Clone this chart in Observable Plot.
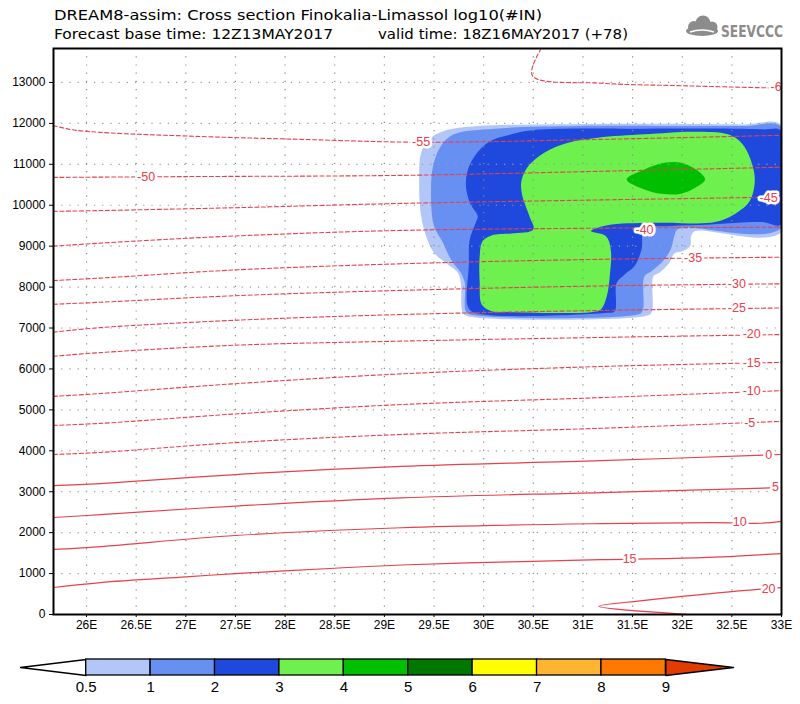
<!DOCTYPE html>
<html>
<head>
<meta charset="utf-8">
<script src="https://cdn.jsdelivr.net/npm/d3@7"></script>
<script src="https://cdn.jsdelivr.net/npm/@observablehq/plot@0.6"></script>
<style>
  body { margin: 0; background: #fff; }
  #wrap { position: relative; width: 800px; height: 704px; overflow: hidden; background: #fff; }
  #chart { position: absolute; left: 0; top: 0; }
  #legend { position: absolute; left: 0; top: 640px; }
  #head { position: absolute; left: 0; top: 0; }
</style>
</head>
<body>
<div id="wrap">
  <div id="chart"></div>
  <div id="legend"></div>
  <svg id="head" width="800" height="46" xmlns="http://www.w3.org/2000/svg">
    <g font-family="DejaVu Sans, sans-serif" font-size="14" fill="#000">
      <text x="54" y="20" textLength="488" lengthAdjust="spacingAndGlyphs">DREAM8-assim: Cross section Finokalia-Limassol log10(#IN)</text>
      <text x="54" y="39" textLength="279" lengthAdjust="spacingAndGlyphs">Forecast base time: 12Z13MAY2017</text>
      <text x="378" y="39" textLength="250" lengthAdjust="spacingAndGlyphs">valid time: 18Z16MAY2017 (+78)</text>
    </g>
    <g fill="#8c8c8c">
      <ellipse cx="702" cy="31" rx="16" ry="5"/>
      <circle cx="694" cy="27" r="6"/>
      <circle cx="703" cy="23" r="7.5"/>
      <circle cx="712" cy="27" r="5.5"/>
    </g>
    <path d="M690 32 Q702 28 714 32" stroke="#fff" stroke-width="1.5" fill="none"/>
    <text x="721" y="37" font-family="DejaVu Sans Condensed, DejaVu Sans, sans-serif" font-weight="bold" font-size="16" fill="#8c8c8c" textLength="62" lengthAdjust="spacingAndGlyphs">SEEVCCC</text>
  </svg>
</div>
<script>
// ---------- axes ----------
const xTicks = [26, 26.5, 27, 27.5, 28, 28.5, 29, 29.5, 30, 30.5, 31, 31.5, 32, 32.5, 33];
const yTicks = [0, 1000, 2000, 3000, 4000, 5000, 6000, 7000, 8000, 9000, 10000, 11000, 12000, 13000];
const xDomain = [25.667, 33.0];
const yDomain = [0, 13830];

// ---------- log10(#IN) filled areas (lon, height m) ----------
const fill05 = [[29.59,11810],[29.94,11935],[30.61,11976],[31.62,11993],[32.63,11976],[33.0,11960],[33.0,9344],[32.13,9368],[32.09,9246],[32.08,9002],[32.01,8879],[31.92,8822],[31.87,8594],[31.77,8350],[31.71,8268],[31.69,7372],[31.62,7290],[29.84,7290],[29.79,7372],[29.77,8105],[29.74,8350],[29.64,8553],[29.50,8839],[29.42,9246],[29.37,9735],[29.35,10550],[29.37,11284],[29.45,11610]];
const fill1 = [[29.70,11732],[30.11,11870],[30.95,11935],[31.96,11935],[32.63,11935],[33.0,11911],[33.0,9450],[31.96,9425],[31.92,9246],[31.89,8961],[31.82,8676],[31.69,8390],[31.62,8268],[31.60,7412],[31.55,7331],[29.87,7331],[29.82,7412],[29.81,8105],[29.77,8350],[29.67,8676],[29.59,9083],[29.50,9490],[29.47,10143],[29.49,10958],[29.57,11447]];
const fill2 = [[30.51,11838],[31.62,11870],[32.80,11854],[33.0,11813],[33.0,9531],[32.80,9588],[32.29,9531],[31.89,9490],[31.62,9409],[31.59,8920],[31.52,8513],[31.42,8309],[31.34,8105],[31.32,7412],[31.25,7372],[29.91,7372],[29.84,7535],[29.85,8513],[29.86,9165],[29.92,9572],[29.94,9735],[29.86,10061],[29.82,10550],[29.87,11039],[30.04,11528],[30.28,11732]];
const fill3 = [[30.08,7412],[29.98,7575],[29.96,8105],[29.96,8757],[29.99,9124],[30.08,9262],[30.28,9311],[30.50,9409],[30.46,9735],[30.39,10224],[30.38,10591],[30.45,10958],[30.61,11284],[30.85,11528],[31.15,11650],[31.62,11732],[32.13,11797],[32.46,11732],[32.61,11487],[32.71,10958],[32.73,10550],[32.68,10102],[32.55,9817],[32.33,9588],[31.79,9572],[31.29,9531],[31.15,9450],[31.08,9368],[31.23,9246],[31.28,8920],[31.27,8268],[31.24,7779],[31.18,7453],[31.08,7388],[30.28,7388]];
const fill4 = [[31.44,10632],[31.62,10876],[31.82,11039],[31.99,11039],[32.16,10835],[32.23,10632],[32.16,10469],[31.99,10281],[31.79,10281],[31.62,10387]];
const fillLevels = [0.5, 1, 2, 3, 4];
const fillColors = ["#b3c6f8", "#6890f2", "#1f48dc", "#6ef04e", "#00be00"];

// ---------- temperature isotherms (lon, height m) ----------
const isoM60 = [[30.58,13830],[30.49,13170],[31.2,12980],[32.0,12920],[33.0,12860]];
const isoM55 = [[25.667,11950],[25.84,11850],[26.14,11780],[27.15,11680],[28.16,11610],[29.37,11540],[31.18,11610],[33.0,11710]];
const isoM50 = [[25.667,10680],[27.0,10700],[29.17,10730],[31.18,10830],[33.0,10930]];
const isoM45 = [[25.667,9850],[26.14,9870],[27.5,9940],[29.17,10045],[31.18,10130],[33.0,10200]];
const isoM40 = [[25.667,9000],[26.14,9075],[27.5,9250],[29.17,9385],[31.2,9440],[33.0,9465]];
const isoM35 = [[25.667,8160],[26.14,8220],[27.5,8420],[29.17,8570],[31.2,8680],[33.0,8730]];
const isoM30 = [[25.667,7580],[26.14,7630],[27.5,7790],[29.17,7920],[31.2,8030],[33.0,8080]];
const isoM25 = [[25.667,6900],[26.14,7010],[27.5,7190],[29.17,7330],[31.2,7430],[33.0,7490]];
const isoM20 = [[25.667,6310],[26.14,6400],[27.5,6580],[29.17,6680],[31.18,6770],[33.0,6840]];
const isoM15 = [[25.667,5330],[26.14,5400],[27.5,5640],[29.17,5880],[31.18,6060],[33.0,6160]];
const isoM10 = [[25.667,4620],[26.14,4670],[27.5,4900],[29.17,5130],[31.18,5300],[33.0,5470]];
const isoM5  = [[25.667,3910],[26.14,3960],[27.5,4200],[29.17,4400],[31.18,4550],[33.0,4720]];
const iso0   = [[25.667,3150],[26.14,3200],[27.5,3420],[29.17,3620],[31.18,3760],[33.0,3910]];
const iso5   = [[25.667,2370],[26.14,2440],[27.5,2650],[29.17,2850],[31.18,2980],[33.0,3100]];
const iso10  = [[25.667,1590],[26.14,1660],[27.5,1930],[29.17,2120],[31.18,2220],[32.3,2245],[32.8,2230],[33.0,2275]];
const iso15  = [[25.667,660],[26.14,780],[27.0,920],[27.5,1000],[28.5,1130],[29.17,1210],[30.5,1300],[31.18,1340],[32.2,1390],[33.0,1490]];
const iso20  = [[32.06,0],[31.16,200],[31.6,340],[32.5,560],[33.0,660]];
const isoLevels = [-60, -55, -50, -45, -40, -35, -30, -25, -20, -15, -10, -5, 0, 5, 10, 15, 20];
const isoSeries = [isoM60, isoM55, isoM50, isoM45, isoM40, isoM35, isoM30, isoM25, isoM20, isoM15, isoM10, isoM5, iso0, iso5, iso10, iso15, iso20];

// ---------- isotherm labels ----------
const isoLabelText = ["-60","-55","-50","-45","-40","-35","-30","-25","-20","-15","-10","-5","0","5","10","15","20"];
const isoLabelLon  = [32.98, 29.37, 26.60, 32.87, 31.62, 32.11, 32.55, 32.55, 32.70, 32.70, 32.70, 32.68, 32.87, 32.94, 32.58, 31.47, 32.87];
const isoLabelH    = [12880, 11536, 10680, 10167, 9385, 8700, 8065, 7480, 6843, 6134, 5450, 4668, 3886, 3104, 2249, 1344, 635];

// ---------- colour bar ----------
const binEdges = ["0.5", "1", "2", "3", "4", "5", "6", "7", "8", "9"];
const binColors = ["#b3c6f8", "#6890f2", "#1f48dc", "#6ef04e", "#00be00", "#007800", "#ffff00", "#ffb432", "#ff7800"];
const underColor = "#ffffff";
const overColor = "#e03c00";

// ---------- build tables ----------
const RED = "#e8404c";
const isoRows = isoSeries.flatMap((pts, i) => pts.map(([lon, h]) => ({lon, h, level: isoLevels[i]})));
const labelRows = isoLabelText.map((t, i) => ({t, lon: isoLabelLon[i], h: isoLabelH[i]}));
const fillSets = [fill05, fill1, fill2, fill3, fill4];

const fillMarks = fillSets.map((pts, i) =>
  Plot.line(pts, {x: d => d[0], y: d => d[1], fill: fillColors[i], stroke: "none", curve: "catmull-rom-closed", clip: true})
);

const chart = Plot.plot({
  width: 800,
  height: 640,
  marginTop: 48,
  marginBottom: 26,
  marginLeft: 53,
  marginRight: 19,
  style: {fontFamily: "Liberation Sans, Arial, sans-serif", fontSize: "12px", color: "#000", background: "transparent"},
  x: {domain: xDomain, ticks: xTicks, tickFormat: d => d + "E", tickSize: 3, tickPadding: 3, label: null},
  y: {domain: yDomain, ticks: yTicks, tickFormat: d => String(d), tickSize: 4, tickPadding: 4, label: null},
  marks: [
    ...fillMarks,
    Plot.ruleX(xTicks.filter(v => v < 33), {stroke: "#8a8a8a", strokeWidth: 1.2, strokeDasharray: "1.2,7"}),
    Plot.ruleY(yTicks.filter(v => v > 0), {stroke: "#9a9a9a", strokeWidth: 1.2, strokeDasharray: "1.2,7"}),
    Plot.line(isoRows.filter(d => d.level < 0), {x: "lon", y: "h", z: "level", stroke: RED, strokeWidth: 1.1, strokeDasharray: "4,2.5", curve: "catmull-rom", clip: true}),
    Plot.line(isoRows.filter(d => d.level >= 0), {x: "lon", y: "h", z: "level", stroke: RED, strokeWidth: 1.2, curve: "catmull-rom", clip: true}),
    Plot.text(labelRows, {x: "lon", y: "h", text: "t", fill: RED, stroke: "white", strokeWidth: 5, paintOrder: "stroke", fontSize: 12.5, clip: true}),
    Plot.frame({stroke: "#000", strokeWidth: 2})
  ]
});
document.getElementById("chart").appendChild(chart);

// colour bar
const rects = binColors.map((c, i) => ({x1: i, x2: i + 1, c}));
const nBins = binColors.length;
const leftTri = [[-1.02, 0.5], [0, 1], [0, 0]];
const rightTri = [[nBins, 1], [nBins + 1.05, 0.5], [nBins, 0]];
const legend = Plot.plot({
  width: 800,
  height: 64,
  marginTop: 19,
  marginBottom: 29,
  marginLeft: 20,
  marginRight: 67,
  style: {fontFamily: "Liberation Sans, Arial, sans-serif", color: "#000", background: "transparent"},
  x: {domain: [-1.02, nBins + 1.05], axis: null},
  y: {domain: [0, 1], axis: null},
  marks: [
    Plot.line(leftTri, {x: d => d[0], y: d => d[1], fill: underColor, stroke: "#000", strokeWidth: 1.3, curve: "linear-closed"}),
    Plot.line(rightTri, {x: d => d[0], y: d => d[1], fill: overColor, stroke: "#000", strokeWidth: 1.3, curve: "linear-closed"}),
    Plot.rect(rects, {x1: "x1", x2: "x2", y1: () => 0, y2: () => 1, fill: "c", stroke: "#000", strokeWidth: 1.3}),
    Plot.text(binEdges, {x: (d, i) => i, y: () => 0, text: d => d, dy: 12, fontSize: 15, fill: "#000"})
  ]
});
document.getElementById("legend").appendChild(legend);
</script>
</body>
</html>
